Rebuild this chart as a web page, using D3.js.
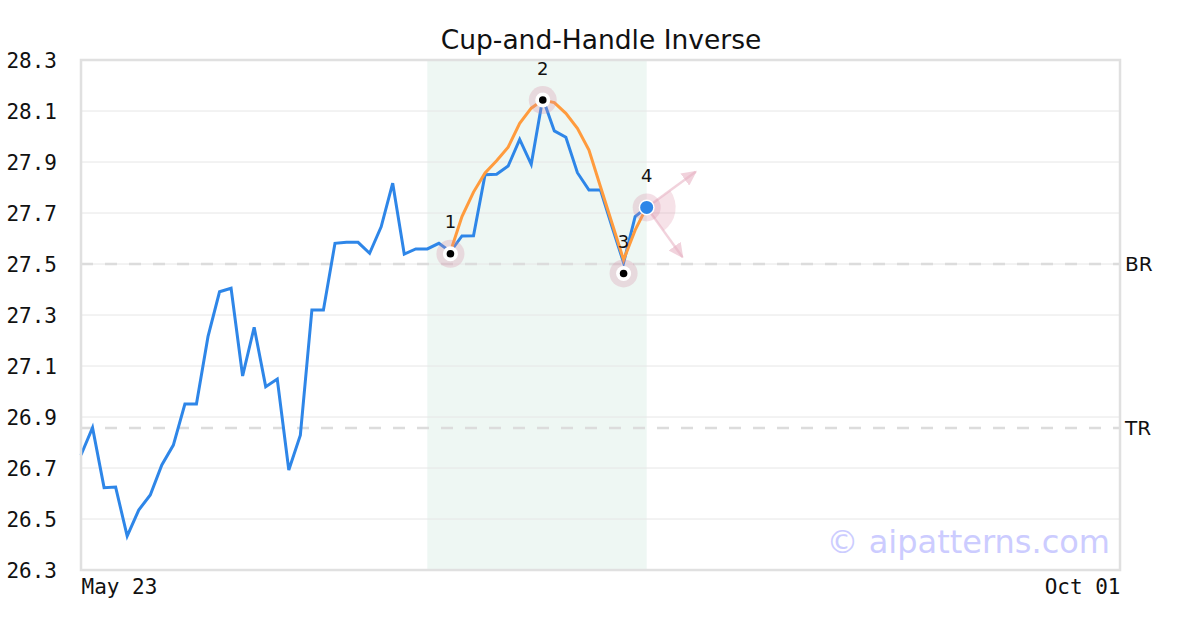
<!DOCTYPE html>
<html><head><meta charset="utf-8">
<script src="https://cdn.jsdelivr.net/npm/d3@7"></script>
<style>
html,body{margin:0;padding:0;background:#fff;}
svg{display:block;}
</style></head>
<body>
<svg id="chart" width="1200" height="630"></svg>
<script>
// ---- data ----
const title = "Cup-and-Handle Inverse";
const priceValues = [26.751,26.858,26.623,26.625,26.433,26.535,26.594,26.712,26.790,26.951,
  26.951,27.215,27.391,27.405,27.061,27.252,27.019,27.049,26.692,26.829,
  27.320,27.320,27.581,27.585,27.585,27.542,27.646,27.817,27.539,27.559,
  27.559,27.581,27.548,27.610,27.611,27.850,27.852,27.884,27.989,27.891,
  28.150,28.022,27.997,27.858,27.790,27.790,27.646,27.505,27.686,27.722];
const cupStart = 32;
const cupValues = [27.548,27.686,27.782,27.857,27.905,27.958,28.052,28.111,28.143,28.133,
  28.091,28.032,27.947,27.803,27.660,27.516,27.633,27.723];
const pointLabels = ["1","2","3","4"];
const pointIndex = [32,40,47,49];
const pointValues = [27.54,28.143,27.463,27.722];
const yTicks = [26.3,26.5,26.7,26.9,27.1,27.3,27.5,27.7,27.9,28.1,28.3];
const xTickIndex = [0,90];
const xTickLabels = ["May 23","Oct 01"];
const levelNames = ["BR","TR"];
const levelValues = [27.5,26.857];
const shadeRange = [30,49];
const totalSlots = 90;
const arrowTargets = [[27.862,53.25],[27.527,52.1]]; // [value, index] end points of the arrows
const watermark = "© aipatterns.com";

// ---- layout ----
const svg = d3.select("#chart");
const M = {l:81, r:1120, t:60, b:570};
const x = d3.scaleLinear().domain([0,totalSlots]).range([M.l,M.r]);
const y = d3.scaleLinear().domain([26.3,28.3]).range([M.b,M.t]);

// title
svg.append("text").attr("x",601).attr("y",49).attr("text-anchor","middle")
  .attr("font-family","DejaVu Sans").attr("font-size",26.5).attr("fill","#111").text(title);

// shaded region
svg.append("rect").attr("x",x(shadeRange[0])).attr("y",M.t)
  .attr("width",x(shadeRange[1])-x(shadeRange[0])).attr("height",M.b-M.t)
  .attr("fill","#eef7f3");

// gridlines
svg.append("g").selectAll("line").data(yTicks).join("line")
  .attr("x1",M.l).attr("x2",M.r).attr("y1",d=>y(d)).attr("y2",d=>y(d))
  .attr("stroke","#e6e6e6").attr("stroke-width",1);

// level lines
svg.append("g").selectAll("line").data(levelValues).join("line")
  .attr("x1",M.l).attr("x2",M.r).attr("y1",d=>y(d)).attr("y2",d=>y(d))
  .attr("stroke","#dcdcdc").attr("stroke-width",2.5).attr("stroke-dasharray","12,12");
svg.append("g").selectAll("text").data(levelNames).join("text")
  .attr("x",M.r+5).attr("y",(d,i)=>y(levelValues[i])+7)
  .attr("font-family","DejaVu Sans").attr("font-size",20).attr("fill","#111").text(d=>d);

// y axis labels
const yAxis = d3.axisLeft(y).tickValues(yTicks).tickFormat(d3.format(".1f")).tickSize(0).tickPadding(0);
const yg = svg.append("g").attr("transform",`translate(57,0)`).call(yAxis);
yg.select(".domain").remove();
yg.selectAll("text").attr("font-family","DejaVu Sans Mono").attr("font-size",21).attr("fill","#111").attr("dy","0.35em");

// x axis labels
const xAxis = d3.axisBottom(x).tickValues(xTickIndex).tickFormat((d,i)=>xTickLabels[i]).tickSize(0).tickPadding(0);
const xg = svg.append("g").attr("transform",`translate(0,576)`).call(xAxis);
xg.select(".domain").remove();
xg.selectAll("text").attr("font-family","DejaVu Sans Mono").attr("font-size",21).attr("fill","#111")
  .attr("dy","0.85em")
  .attr("text-anchor",(d,i)=>i===0?"start":"end");

// watermark
svg.append("text").attr("x",1110).attr("y",553).attr("text-anchor","end")
  .attr("font-family","DejaVu Sans").attr("font-size",32).attr("fill","#ccccff").text(watermark);

// price line
const line = d3.line().x((d,i)=>x(i)).y(d=>y(d));
svg.append("path").datum(priceValues).attr("d",line)
  .attr("fill","none").attr("stroke","#2e86e8").attr("stroke-width",3).attr("stroke-linejoin","miter");

// cup line
const cupLine = d3.line().x((d,i)=>x(i+cupStart)).y(d=>y(d));
svg.append("path").datum(cupValues).attr("d",cupLine)
  .attr("fill","none").attr("stroke","#ff9b3d").attr("stroke-width",3);

// point 4 decorations
const p4x = x(pointIndex[3]), p4y = y(pointValues[3]);
const angs = arrowTargets.map(t=>Math.atan2(y(t[0])-p4y, x(t[1])-p4x));
const arc = d3.arc().innerRadius(0).outerRadius(29)
  .startAngle(angs[0]+Math.PI/2).endAngle(angs[1]+Math.PI/2);
svg.append("path").attr("d",arc()).attr("transform",`translate(${p4x},${p4y})`)
  .attr("fill","rgba(225,160,180,0.3)");
const defs = svg.append("defs");
defs.append("marker").attr("id","ah").attr("viewBox","0 0 10 10").attr("refX",9).attr("refY",5)
  .attr("markerWidth",6).attr("markerHeight",6).attr("orient","auto")
  .append("path").attr("d","M0,0L10,5L0,10z").attr("fill","rgba(232,180,196,0.6)");
svg.append("g").selectAll("line").data(arrowTargets).join("line")
  .attr("x1",p4x).attr("y1",p4y).attr("x2",d=>x(d[1])).attr("y2",d=>y(d[0]))
  .attr("stroke","rgba(232,180,196,0.6)").attr("stroke-width",2.5).attr("marker-end","url(#ah)");

// markers
const pts = pointIndex.map((d,i)=>({i:d, v:pointValues[i], label:pointLabels[i], k:i}));
const mg = svg.append("g");
mg.selectAll(".halo").data(pts).join("circle").attr("class","halo")
  .attr("cx",d=>x(d.i)).attr("cy",d=>y(d.v)).attr("r",14)
  .attr("fill","rgba(215,140,165,0.28)");
mg.selectAll(".ring").data(pts).join("circle").attr("class","ring")
  .attr("cx",d=>x(d.i)).attr("cy",d=>y(d.v)).attr("r",d=>d.k===3?8:7.5)
  .attr("fill","#fff");
mg.selectAll(".dot").data(pts).join("circle").attr("class","dot")
  .attr("cx",d=>x(d.i)).attr("cy",d=>y(d.v)).attr("r",d=>d.k===3?6.5:3.8)
  .attr("fill",d=>d.k===3?"#2e86e8":"#000");
const labelDyArr = [ -31, -30, -30, -30];
mg.selectAll(".lbl").data(pts).join("text").attr("class","lbl")
  .attr("x",d=>x(d.i)).attr("y",(d)=> d.k===2 ? y(d.v)-25 : y(d.v)+labelDyArr[d.k]+5)
  .attr("text-anchor","middle").attr("font-family","DejaVu Sans").attr("font-size",18)
  .attr("fill","#111").text(d=>d.label);

// plot border
svg.append("rect").attr("x",M.l).attr("y",M.t).attr("width",M.r-M.l).attr("height",M.b-M.t)
  .attr("fill","none").attr("stroke","#e0e0e0").attr("stroke-width",2.5);
</script>
</body></html>
